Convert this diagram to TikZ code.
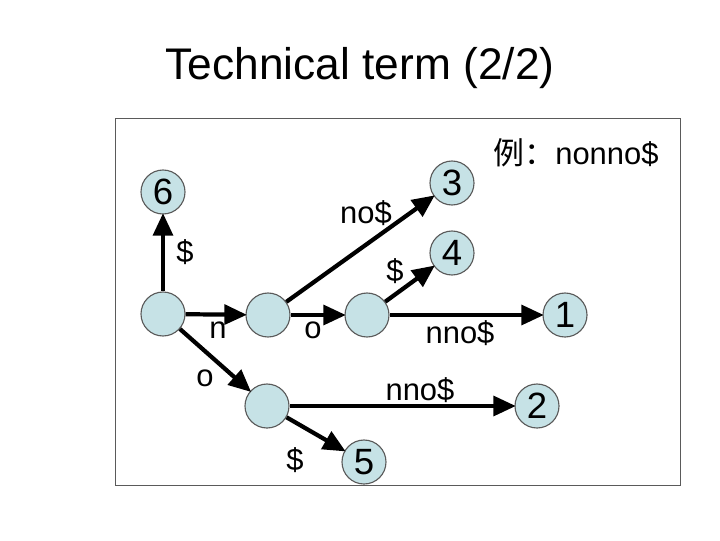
\documentclass[tikz,border=0pt]{standalone}
\usepackage{fontspec}
\usetikzlibrary{arrows.meta}
\setmainfont{Liberation Sans}
\newfontfamily\cjk{Noto Sans CJK SC}
\definecolor{nodefill}{HTML}{C6E2E6}
\definecolor{nodeline}{HTML}{5A5A5A}
\begin{document}
\begin{tikzpicture}[x=0.025cm,y=-0.025cm]
        \tikzstyle{inner}=[draw=nodeline,line width=0.8pt,shape=circle,fill=nodefill,minimum size=44*0.025cm,inner sep=0pt]
        \tikzstyle{leaf}=[inner,font=\fontsize{26}{28}\selectfont]
        \tikzstyle{lab}=[font=\fontsize{22}{26}\selectfont,inner sep=0pt]
        \tikzstyle{edge}=[line width=3pt,-{Triangle[length=16pt,width=14pt]},shorten >=-1pt]
            \useasboundingbox (0,0) rectangle (720,540);
            \draw[line width=0.6pt,color=nodeline] (115,118) rectangle (680,485);
            \node[font=\fontsize{31.5}{36}\selectfont] (title) at (360,68) {Technical term (2/2)};

            \node[inner] (r) at (163,314) {};
            \node[inner] (a) at (268,315) {};
            \node[inner] (b) at (367,315) {};
            \node[inner] (c) at (267,406) {};

            \node[leaf] (l6) at (163,192) {6};
            \node[leaf] (l3) at (452,183) {3};
            \node[leaf] (l4) at (452,253) {4};
            \node[leaf] (l1) at (565,315) {1};
            \node[leaf] (l2) at (537,406) {2};
            \node[leaf] (l5) at (364,462) {5};

            \node[lab] at (576,153) {{\cjk 例：}nonno\$};

            \draw[edge] (r) -- (l6);
            \draw[edge] (r) -- (a);
            \draw[edge] (a) -- (b);
            \draw[edge] (r) -- (c);
            \draw[edge] (a) -- (l3);
            \draw[edge] (b) -- (l4);
            \draw[edge] (b) -- (l1);
            \draw[edge] (c) -- (l2);
            \draw[edge] (c) -- (l5);

            \node[lab] at (185,252) {\$};
            \node[lab] at (218,330) {n};
            \node[lab] at (205,378) {o};
            \node[lab] at (366,213) {no\$};
            \node[lab] at (313,330) {o};
            \node[lab] at (395,271) {\$};
            \node[lab] at (460,333) {nno\$};
            \node[lab] at (420,390) {nno\$};
            \node[lab] at (295,460) {\$};
        \end{tikzpicture}
\end{document}
